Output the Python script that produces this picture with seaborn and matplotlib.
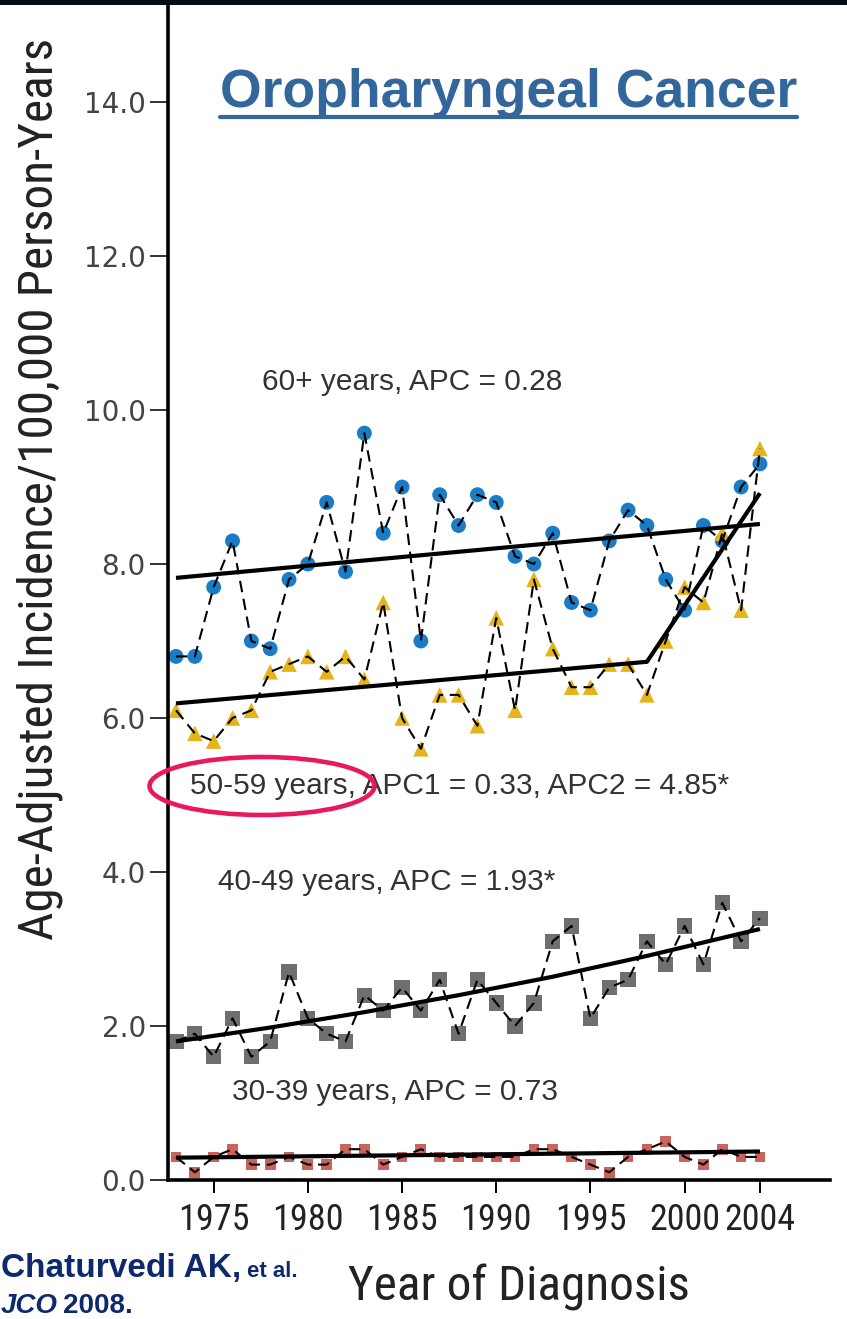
import matplotlib
matplotlib.use("Agg")
import matplotlib.pyplot as plt
import seaborn as sns
from matplotlib.patches import Ellipse, Rectangle
from matplotlib.lines import Line2D

# ---------------- data ----------------
years = list(range(1973, 2005))
age60 = [6.8, 6.8, 7.7, 8.3, 7.0, 6.9, 7.8, 8.0, 8.8, 7.9, 9.7, 8.4, 9.0, 7.0, 8.9, 8.5,
         8.9, 8.8, 8.1, 8.0, 8.4, 7.5, 7.4, 8.3, 8.7, 8.5, 7.8, 7.4, 8.5, 8.3, 9.0, 9.3]
age50 = [6.1, 5.8, 5.7, 6.0, 6.1, 6.6, 6.7, 6.8, 6.6, 6.8, 6.5, 7.5, 6.0, 5.6, 6.3, 6.3,
         5.9, 7.3, 6.1, 7.8, 6.9, 6.4, 6.4, 6.7, 6.7, 6.3, 7.0, 7.7, 7.5, 8.4, 7.4, 9.5]
age40 = [1.8, 1.9, 1.6, 2.1, 1.6, 1.8, 2.7, 2.1, 1.9, 1.8, 2.4, 2.2, 2.5, 2.2, 2.6, 1.9,
         2.6, 2.3, 2.0, 2.3, 3.1, 3.3, 2.1, 2.5, 2.6, 3.1, 2.8, 3.3, 2.8, 3.6, 3.1, 3.4]
age30 = [0.3, 0.1, 0.3, 0.4, 0.2, 0.2, 0.3, 0.2, 0.2, 0.4, 0.4, 0.2, 0.3, 0.4, 0.3, 0.3,
         0.3, 0.3, 0.3, 0.4, 0.4, 0.3, 0.2, 0.1, 0.3, 0.4, 0.5, 0.3, 0.2, 0.4, 0.3, 0.3]

# fitted joinpoint trends (values read at knots)
trend60_years = [1973, 2004]
trend60 = [7.82, 8.52]
trend50_years = [1973, 1998, 2004]
trend50 = [6.19, 6.73, 8.92]
trend40_years = [1973, 1978, 1983, 1988, 1993, 1998, 2004]
trend40 = [1.80, 1.98, 2.18, 2.40, 2.64, 2.91, 3.26]
trend30_years = [1973, 2004]
trend30 = [0.29, 0.37]

series_labels = ["60+ years, APC = 0.28",
                 "50-59 years, APC1 = 0.33, APC2 = 4.85*",
                 "40-49 years, APC = 1.93*",
                 "30-39 years, APC = 0.73"]
x_ticks = [1975, 1980, 1985, 1990, 1995, 2000, 2004]
y_ticks = [0, 2, 4, 6, 8, 10, 12, 14]
title = "Oropharyngeal Cancer"
x_label = "Year of Diagnosis"
y_label = "Age-Adjusted Incidence/100,000 Person-Years"

# ---------------- style ----------------
sns.set_theme(style="white")
plt.rcParams["font.family"] = ["Liberation Sans", "DejaVu Sans"]
COND = ["Roboto Condensed", "Archivo Narrow", "DejaVu Sans"]

W, H = 847, 1319
fig = plt.figure(figsize=(W / 100, H / 100), dpi=100)
fig.patch.set_facecolor("white")


def fx(px):
    return px / W


def fy(py):
    return 1 - py / H


ax = fig.add_axes([fx(168), fy(1180), fx(830) - fx(168), fy(5) - fy(1180)])
ax.set_facecolor("white")

blue = "#1b7cc6"
yellow = "#e5b31b"
grey = "#6f6f6f"
red = "#c9635b"

marker_specs = [
    (age60, "o", 115, blue),
    (age50, "^", 125, yellow),
    (age40, "s", 120, grey),
    (age30, "s", 60, red),
]
for vals, mk, sz, col in marker_specs:
    sns.scatterplot(x=years, y=vals, marker=mk, s=sz, color=col, edgecolor="none",
                    linewidth=0, ax=ax, zorder=2)
    sns.lineplot(x=years, y=vals, color="black", linewidth=1.5,
                 linestyle=(0, (5.5, 3.2)), ax=ax, zorder=3)

for ty, tv in [(trend60_years, trend60), (trend50_years, trend50),
               (trend40_years, trend40), (trend30_years, trend30)]:
    sns.lineplot(x=ty, y=tv, color="black", linewidth=3.0, ax=ax, zorder=4,
                 solid_capstyle="butt")

ax.set_xlim(1972.575, 2007.72)
ax.set_ylim(0, 15.26)

ax.set_xticks(x_ticks)
ax.set_xticklabels([str(v) for v in x_ticks], fontfamily=COND, fontsize=26, color="#222222")
ax.set_yticks(y_ticks)
ax.set_yticklabels([f"{v:.1f}" for v in y_ticks], fontfamily="DejaVu Sans", fontsize=20,
                   color="#444444")
ax.tick_params(axis="x", bottom=True, length=9, width=1.4, pad=7, direction="out", color="black")
ax.tick_params(axis="y", left=True, length=13, width=1.4, pad=3, direction="out", color="#333333")

sns.despine(ax=ax)
for s in ["left", "bottom"]:
    ax.spines[s].set_linewidth(2.6)
    ax.spines[s].set_color("black")
ax.grid(False)

ax.set_xlabel(x_label, fontfamily=COND, fontsize=35.5, color="#222222")
ax.xaxis.set_label_coords((519 - 168) / 662, (1180 - 1264) / 1175)
ax.set_ylabel(y_label, fontfamily=COND, fontsize=35.5, color="#222222")
ax.yaxis.set_label_coords((63 - 168) / 662, (1180 - 489) / 1175)

# series annotations
ann_pos = [(1977.56, 10.36), (1973.74, 5.12), (1975.23, 3.87), (1975.97, 1.14)]
for (xa, ya), lab in zip(ann_pos, series_labels):
    ax.text(xa, ya, lab, ha="left", va="center", fontsize=21.5, color="#333333",
            fontfamily="Liberation Sans", zorder=5)

# highlight ellipse
ax.add_patch(Ellipse((fx(262), fy(786)), width=225 / W, height=58 / H,
                     transform=fig.transFigure, fill=False, edgecolor="#e8195e",
                     linewidth=3.3, clip_on=False, zorder=6))

# title with underline
t = fig.text(fx(220), fy(107), title, ha="left", va="baseline", fontsize=38.5,
             fontweight="bold", color="#33669b", fontfamily="Liberation Sans")

# top dark band
fig.patches.append(Rectangle((0, fy(5)), 1, 1 - fy(5), transform=fig.transFigure,
                             facecolor="#050b16", edgecolor="none", zorder=10))

# citation
navy = "#0f2a6c"
c1 = fig.text(fx(1), fy(1277), "Chaturvedi AK,", ha="left", va="baseline", fontsize=24,
              fontweight="bold", color=navy, fontfamily="Liberation Sans")
c3 = fig.text(fx(1), fy(1319), "JCO", ha="left", va="bottom", fontsize=20,
              fontweight="bold", fontstyle="italic", color=navy, fontfamily="Liberation Sans")

fig.canvas.draw()
r = fig.canvas.get_renderer()
bb = t.get_window_extent(r)
fig.add_artist(Line2D([bb.x0 / W, bb.x1 / W], [fy(117), fy(117)], transform=fig.transFigure,
                      color="#33669b", linewidth=3.0))
b1 = c1.get_window_extent(r)
fig.text((b1.x1 + 6) / W, fy(1277), "et al.", ha="left", va="baseline", fontsize=16,
         fontweight="bold", color=navy, fontfamily="Liberation Sans")
b3 = c3.get_window_extent(r)
fig.text((b3.x1 + 5) / W, fy(1319), "2008.", ha="left", va="bottom", fontsize=20,
         fontweight="bold", color=navy, fontfamily="Liberation Sans")

fig.savefig("out.png", dpi=100)
